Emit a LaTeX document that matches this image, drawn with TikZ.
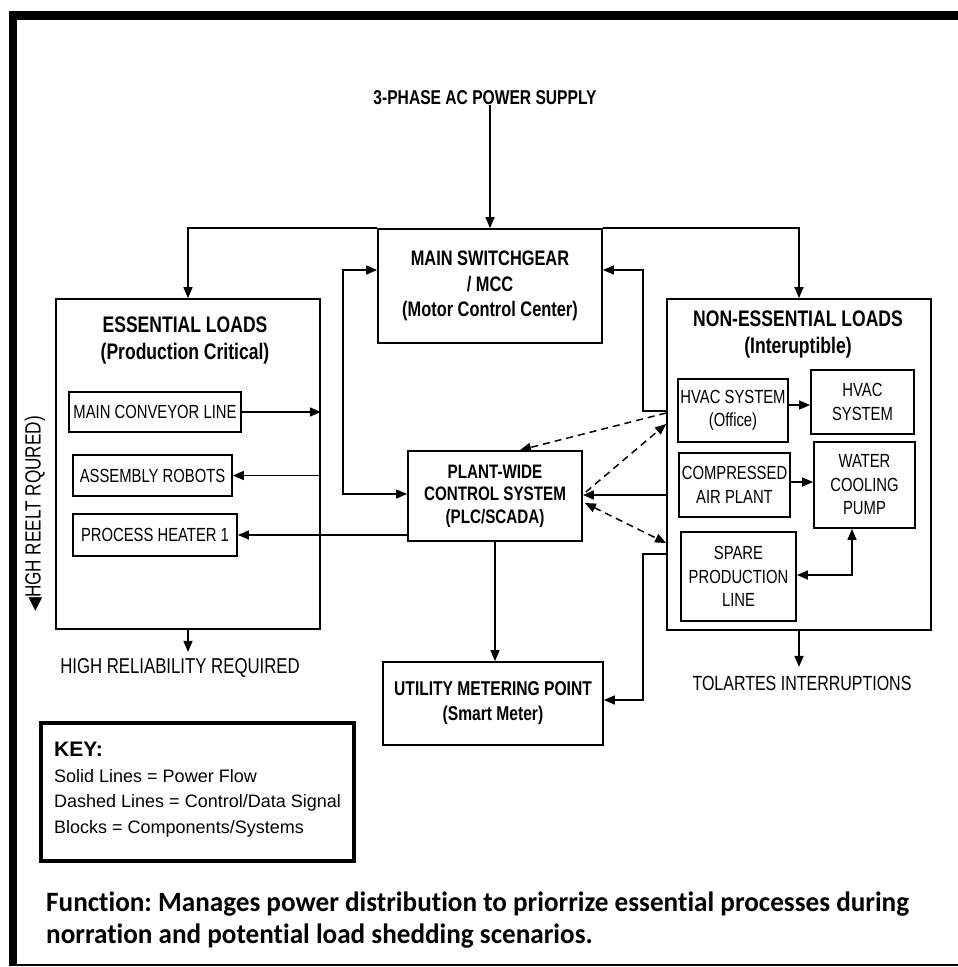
\documentclass[tikz,border=0pt]{standalone}
\usepackage{fontspec}
\setmainfont{Liberation Sans}
\newfontfamily\cnr[FakeStretch=0.78]{Liberation Sans}
\newfontfamily\fnc[FakeStretch=0.97,Ligatures={NoCommon}]{Carlito}
\newfontfamily\dv{DejaVu Sans}
\usetikzlibrary{arrows.meta,calc}
\frenchspacing
\begin{document}
\begin{tikzpicture}[x=1pt,y=-1pt,
  box/.style={draw, line width=1.8pt, inner sep=0pt, align=center},
  sm/.style={font=\cnr\fontsize{19}{23.5}\selectfont},
  ttl/.style={font=\cnr\bfseries\fontsize{22.5}{27}\selectfont, align=center, inner sep=0pt},
  lbl/.style={font=\cnr\fontsize{21.5}{24}\selectfont, inner sep=0pt},
  tip/.style={-{Triangle[length=11pt,width=9pt]}},
  pw/.style={line width=1.5pt, tip},
  pwb/.style={line width=1.5pt, {Triangle[length=11pt,width=9pt]}-{Triangle[length=11pt,width=9pt]}},
  sig/.style={line width=1.5pt, dash pattern=on 7pt off 5pt, tip},
  sigb/.style={line width=1.5pt, dash pattern=on 7pt off 5pt, {Triangle[length=11pt,width=9pt]}-{Triangle[length=11pt,width=9pt]}}
]
\useasboundingbox (0,0) rectangle (958,967);
\fill[white] (0,0) rectangle (958,967);

% outer frame
\fill[black] (9,11) rectangle (958,20);
\fill[black] (9,11) rectangle (17,966);
\draw[line width=2pt] (9,965) -- (958,965);

% supply
\node[font=\cnr\bfseries\fontsize{20}{22}\selectfont, inner sep=0pt] (supply) at (485,98) {3-PHASE AC POWER SUPPLY};

% main blocks
\node[box, minimum width=224pt, minimum height=114pt, font=\cnr\bfseries\fontsize{21}{25.5}\selectfont] (mcc) at (490,286) {MAIN SWITCHGEAR\\/ MCC\\(Motor Control Center)};
\node[box, minimum width=264pt, minimum height=330pt] (ess) at (188,464) {};
\node[box, minimum width=264pt, minimum height=331pt] (noness) at (799,464.5) {};
\node[box, minimum width=174pt, minimum height=90pt, font=\cnr\bfseries\fontsize{19.5}{22.5}\selectfont] (plc) at (495,496) {PLANT-WIDE\\CONTROL SYSTEM\\(PLC/SCADA)};
\node[box, minimum width=220pt, minimum height=83pt, font=\cnr\bfseries\fontsize{20}{25}\selectfont] (util) at (493,703.5) {UTILITY METERING POINT\\(Smart Meter)};

% titles of the load groups
\node[ttl] (esst) at (185,340.5) {ESSENTIAL LOADS\\(Production Critical)};
\node[ttl] (nonesst) at (798,334.5) {NON-ESSENTIAL LOADS\\(Interuptible)};

% essential loads
\node[box, sm, minimum width=172pt, minimum height=40pt] (conv) at (155,412) {MAIN CONVEYOR LINE};
\node[box, sm, minimum width=159pt, minimum height=41pt] (robots) at (152.5,475.5) {ASSEMBLY ROBOTS};
\node[box, sm, minimum width=164pt, minimum height=42pt] (heater) at (155,535) {PROCESS HEATER 1};

% non-essential loads
\node[box, sm, minimum width=110pt, minimum height=63pt] (hvacoff) at (733,410.5) {HVAC SYSTEM\\(Office)};
\node[box, sm, minimum width=103pt, minimum height=64pt] (hvac) at (862.5,402) {HVAC\\SYSTEM};
\node[box, sm, minimum width=111pt, minimum height=64pt] (air) at (734.5,485) {COMPRESSED\\AIR PLANT};
\node[box, sm, minimum width=101pt, minimum height=86pt] (pump) at (864.5,485) {WATER\\COOLING\\PUMP};
\node[box, sm, minimum width=115pt, minimum height=89pt] (spare) at (738.5,576.5) {SPARE\\PRODUCTION\\LINE};

% notes under the groups
\node[lbl] (hirel) at (180,668) {HIGH RELIABILITY REQUIRED};
\node[lbl, font=\cnr\fontsize{20.5}{24}\selectfont] (toler) at (802,683) {TOLARTES INTERRUPTIONS};
\node[font=\cnr\fontsize{22}{24}\selectfont, inner sep=0pt, rotate=90] (side) at (35,514) {{\dv\fontsize{18}{20}\selectfont ◀}HGH REELT RQURED)};

% routing points
\coordinate (lt) at (343,270);
\coordinate (lb) at (343,494);
\coordinate (rt) at (643,270);
\coordinate (rb) at (643,411);
\coordinate (ut) at (643,554);
\coordinate (ub) at (643,700);
\coordinate (sp) at (852,575);

% power flow
\draw[pw] (supply.south -| mcc.north) -- (mcc.north);
\draw[pw] (mcc.north west) -- (mcc.north west -| ess.north) -- (ess.north);
\draw[pw] (mcc.north east) -- (mcc.north east -| noness.north) -- (noness.north);
\draw[pwb] (mcc.west |- lt) -- (lt) -- (lb) -- (plc.west |- lb);
\draw[pw] (noness.west |- rb) -- (rb) -- (rt) -- (mcc.east |- rt);
\draw[pw] (conv.east) -- (ess.east |- conv.east);
\draw[pw] (ess.east |- robots.east) -- (robots.east);
\draw[pw] (plc.west |- heater.east) -- (heater.east);
\draw[pw] (plc.south) -- (plc.south |- util.north);
\draw[pw] (noness.west |- ut) -- (ut) -- (ub) -- (util.east |- ub);
\draw[pw] (noness.west |- 0,495) -- (plc.east |- 0,495);
\draw[pw] (hvacoff.east |- 0,405) -- (hvac.west |- 0,405);
\draw[pw] (air.east |- 0,482) -- (pump.west |- 0,482);
\draw[pwb] (spare.east |- sp) -- (sp) -- (sp |- pump.south);
\draw[pw] (ess.south) -- ++(0,22);
\draw[pw] (noness.south) -- ++(0,36);

% control / data signals
\draw[sig] (noness.west |- 0,413) -- ($(plc.north)+(25,0)$);
\draw[sig] ($(plc.east)+(3,-4)$) -- (noness.west |- 0,424);
\draw[sigb] ($(plc.east)+(2,7)$) -- (noness.west |- 0,543);

% key
\node[draw, line width=3.5pt, minimum width=313pt, minimum height=138pt] (key) at (197.5,792) {};
\node[anchor=north west, align=left, inner sep=0pt, font=\fontsize{18}{25.5}\selectfont] (keyt) at (54,742)
  {{\bfseries\fontsize{21}{25.5}\selectfont KEY:}\\Solid Lines = Power Flow\\Dashed Lines = Control/Data Signal\\Blocks = Components/Systems};

% function statement
\node[anchor=north west, align=left, inner sep=0pt, font=\fnc\bfseries\fontsize{28}{32}\selectfont] (func) at (46,892)
  {Function: Manages power distribution to priorrize essential processes during\\norration and potential load shedding scenarios.};
\end{tikzpicture}
\end{document}
